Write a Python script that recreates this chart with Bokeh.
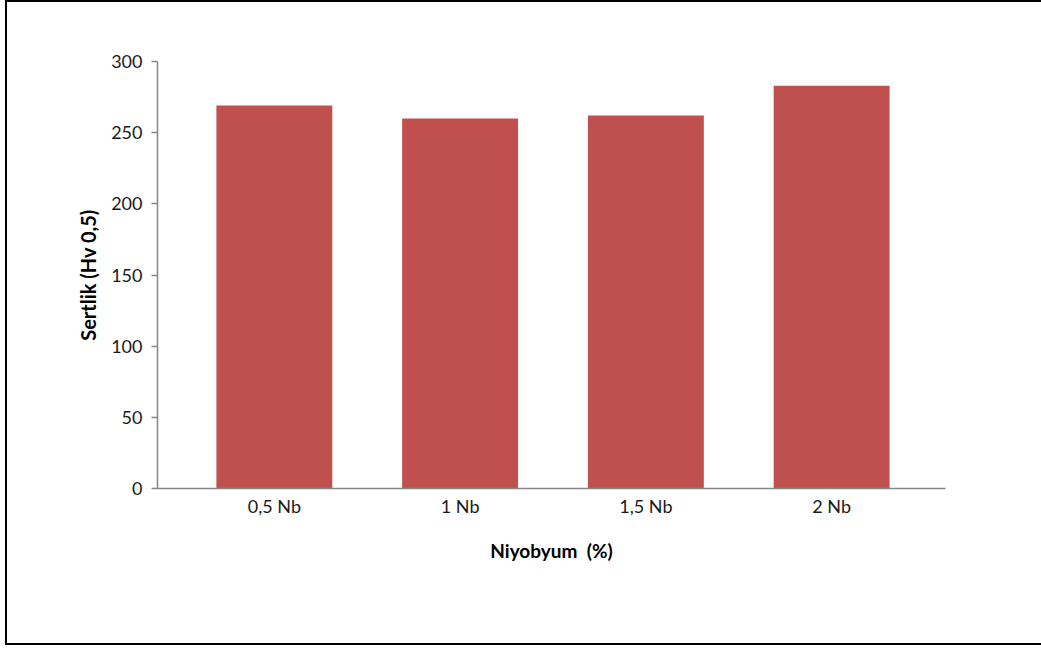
from bokeh.plotting import figure
from bokeh.models import Range1d, FixedTicker, ColumnDataSource
from bokeh.embed import file_html
from bokeh.resources import INLINE

categories = ["0,5 Nb", "1 Nb", "1,5 Nb", "2 Nb"]
hardness = [269, 260, 262, 283]
y_ticks = [0, 50, 100, 150, 200, 250, 300]

xs = list(range(1, len(categories) + 1))
src = ColumnDataSource(dict(x=xs, top=hardness, label=categories))

p = figure(width=1034, height=641, output_backend="svg", toolbar_location=None,
           x_range=Range1d(0.371, 4.613), y_range=Range1d(0, 300),
           min_border_left=150, min_border_right=96, min_border_top=59, min_border_bottom=155)
p.frame_width = 788
p.frame_height = 427
p.styles = {"margin-left": "5px",
            "border-left": "2px solid black",
            "border-top": "2px solid black",
            "border-bottom": "2px solid black"}

p.vbar(x="x", top="top", width=0.624, source=src, fill_color="#C0504D", line_color=None)

p.grid.visible = False
p.outline_line_color = None
p.background_fill_color = "white"
p.border_fill_color = "white"

font = "Lato"
ya = p.yaxis[0]
ya.ticker = FixedTicker(ticks=y_ticks)
ya.minor_tick_line_color = None
ya.axis_line_color = "#868686"
ya.axis_line_width = 1.5
ya.major_tick_line_color = "#868686"
ya.major_tick_line_width = 1.5
ya.major_tick_out = 6
ya.major_tick_in = 0
ya.major_label_text_font = font
ya.major_label_text_font_size = "18px"
ya.major_label_text_color = "#1a1a1a"
ya.major_label_standoff = 9
ya.axis_label = "Sertlik (Hv 0,5)"
ya.axis_label_text_font = font
ya.axis_label_text_font_style = "bold"
ya.axis_label_text_font_size = "20px"
ya.axis_label_text_color = "black"
ya.axis_label_standoff = 8

xa = p.xaxis[0]
xa.ticker = FixedTicker(ticks=xs)
xa.major_label_overrides = {x: c for x, c in zip(xs, categories)}
xa.minor_tick_line_color = None
xa.major_tick_line_color = None
xa.major_tick_out = 0
xa.major_tick_in = 0
xa.axis_line_color = "#868686"
xa.axis_line_width = 1.5
xa.major_label_text_font = font
xa.major_label_text_font_size = "18px"
xa.major_label_text_color = "#1a1a1a"
xa.major_label_standoff = 6
xa.axis_label = "Niyobyum\u00a0\u00a0(%)"
xa.axis_label_text_font = font
xa.axis_label_text_font_style = "bold"
xa.axis_label_text_font_size = "19px"
xa.axis_label_text_color = "black"
xa.axis_label_standoff = 19

open("out.html", "w").write(file_html(p, INLINE))
